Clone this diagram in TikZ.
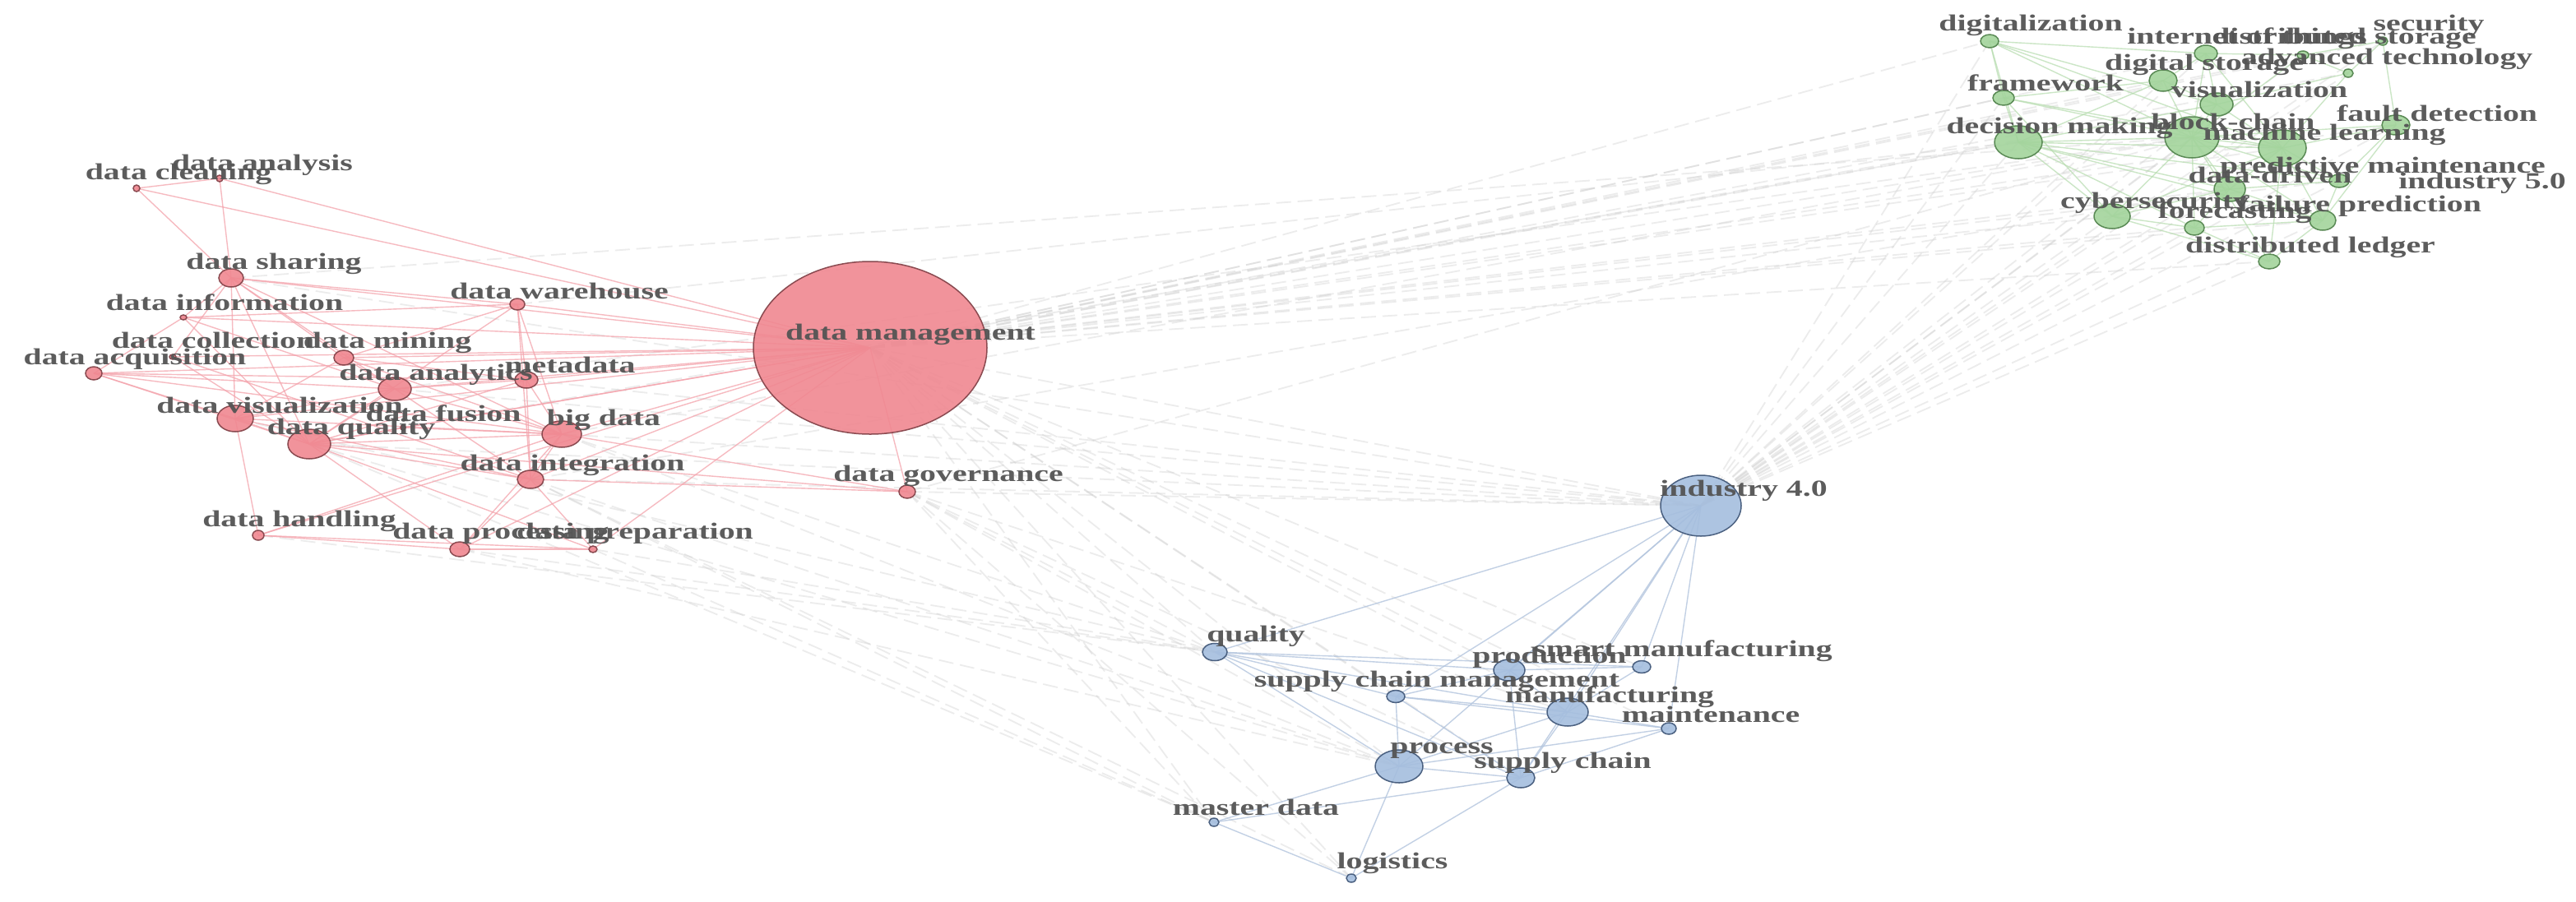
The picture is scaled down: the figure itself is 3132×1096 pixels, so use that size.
\documentclass[tikz,border=0pt]{standalone}
\usepackage{fontspec}
\newfontfamily\lblfont{Liberation Serif}[FakeStretch=1.42]
\usetikzlibrary{shapes.geometric}
\pgfdeclarelayer{bglayer}
\pgfdeclarelayer{edgelayer}
\pgfsetlayers{bglayer,edgelayer,main}
\definecolor{redfill}{HTML}{F08891}
\definecolor{redline}{HTML}{8A4A50}
\definecolor{rededge}{HTML}{F4A3AC}
\definecolor{greenfill}{HTML}{A3D49C}
\definecolor{greenline}{HTML}{5A8A55}
\definecolor{greenedge}{HTML}{B6DCAE}
\definecolor{bluefill}{HTML}{A5BEDE}
\definecolor{blueline}{HTML}{4A6080}
\definecolor{blueedge}{HTML}{B3C5DE}
\definecolor{crossedge}{HTML}{D2D2D2}
\definecolor{lblgray}{HTML}{545454}
\tikzset{
  kw/.style={ellipse, line width=1.5pt, inner sep=0pt, fill opacity=0.9},
  rn/.style={kw, draw=redline, fill=redfill},
  gn/.style={kw, draw=greenline, fill=greenfill},
  bn/.style={kw, draw=blueline, fill=bluefill},
  lbl/.style={anchor=base, inner sep=0pt, text=lblgray, text opacity=0.95,
    font=\lblfont\bfseries\fontsize{28}{30}\selectfont},
  redrel/.style={draw=rededge, line width=1.4pt, opacity=0.75},
  greenrel/.style={draw=greenedge, line width=1.4pt, opacity=0.7},
  bluerel/.style={draw=blueedge, line width=1.4pt, opacity=0.8},
  crossrel/.style={draw=crossedge, line width=1.8pt, opacity=0.42, dash pattern=on 18pt off 8pt}
}
\newcommand{\kwnode}[6]{\node[#1, minimum width=#5pt, minimum height=#6pt] (#2) at (#3,#4) {};}
\begin{document}
\begin{tikzpicture}[x=1pt,y=-1pt]
\useasboundingbox (0,0) rectangle (3132,1096);
\begin{pgfonlayer}{bglayer}
\fill[white] (0,0) rectangle (3132,1096);
\end{pgfonlayer}
% ---------- red cluster nodes ----------
\kwnode{rn}{dm}{1058}{423}{284}{210}
\kwnode{rn}{dcl}{166}{229}{8}{8}
\kwnode{rn}{dan}{267}{217}{8}{8}
\kwnode{rn}{dsh}{281}{338}{30}{22}
\kwnode{rn}{dinf}{223}{386}{8}{6}
\kwnode{rn}{dwh}{629}{370}{18}{14}
\kwnode{rn}{dcol}{210}{434}{8}{6}
\kwnode{rn}{dmin}{418}{435}{24}{18}
\kwnode{rn}{dacq}{114}{454}{20}{16}
\kwnode{rn}{dana}{480}{473}{40}{28}
\kwnode{rn}{meta}{640}{462}{28}{20}
\kwnode{rn}{dviz}{286}{509}{44}{32}
\kwnode{rn}{dfus}{490}{520}{6}{6}
\kwnode{rn}{dq}{376}{540}{52}{36}
\kwnode{rn}{bd}{683}{528}{48}{32}
\kwnode{rn}{dint}{645}{583}{32}{22}
\kwnode{rn}{dh}{314}{651}{14}{12}
\kwnode{rn}{dproc}{559}{668}{24}{18}
\kwnode{rn}{dprep}{721}{668}{10}{8}
\kwnode{rn}{dgov}{1103}{598}{20}{16}
% ---------- green cluster nodes ----------
\kwnode{gn}{dig}{2419}{50}{22}{16}
\kwnode{gn}{iot}{2682}{65}{28}{20}
\kwnode{gn}{dst}{2800}{67}{14}{10}
\kwnode{gn}{sec}{2897}{50}{12}{10}
\kwnode{gn}{adv}{2855}{89}{12}{10}
\kwnode{gn}{dgs}{2630}{98}{34}{26}
\kwnode{gn}{fw}{2436}{119}{26}{18}
\kwnode{gn}{vis}{2695}{127}{40}{28}
\kwnode{gn}{fd}{2913}{152}{34}{24}
\kwnode{gn}{dec}{2454}{173}{58}{40}
\kwnode{gn}{bc}{2665}{167}{66}{50}
\kwnode{gn}{ml}{2775}{180}{58}{44}
\kwnode{gn}{pm}{2844}{220}{24}{16}
\kwnode{gn}{dd}{2711}{230}{38}{30}
\kwnode{gn}{cyb}{2568}{263}{44}{30}
\kwnode{gn}{fp}{2824}{268}{32}{24}
\kwnode{gn}{fc}{2668}{277}{24}{18}
\kwnode{gn}{dl}{2759}{318}{26}{18}
% ---------- blue cluster nodes ----------
\kwnode{bn}{i4}{2068}{615}{98}{74}
\kwnode{bn}{qual}{1477}{793}{30}{21}
\kwnode{bn}{prod}{1835}{815}{38}{26}
\kwnode{bn}{sm}{1996}{811}{22}{15}
\kwnode{bn}{scm}{1697}{847}{22}{15}
\kwnode{bn}{mfg}{1906}{866}{50}{34}
\kwnode{bn}{mnt}{2029}{886}{18}{14}
\kwnode{bn}{proc}{1701}{932}{58}{40}
\kwnode{bn}{sc}{1849}{946}{34}{24}
\kwnode{bn}{md}{1476}{1000}{12}{10}
\kwnode{bn}{log}{1643}{1068}{12}{10}
% ---------- edges ----------
\begin{pgfonlayer}{edgelayer}
\foreach \a/\b in {dm/dig,dm/iot,dm/dst,dm/sec,dm/adv,dm/dgs,dm/fw,dm/vis,dm/fd,dm/dec,dm/bc,dm/ml,dm/pm,dm/dd,dm/cyb,dm/fp,dm/fc,dm/dl,
  i4/dig,i4/iot,i4/dst,i4/sec,i4/adv,i4/dgs,i4/fw,i4/vis,i4/fd,i4/dec,i4/bc,i4/ml,i4/pm,i4/dd,i4/cyb,i4/fp,i4/fc,i4/dl,
  dm/i4,dm/qual,dm/prod,dm/scm,dm/mfg,dm/proc,dm/sc,dm/md,dm/log,dm/mnt,dm/sm,
  dq/i4,bd/i4,dana/i4,dint/i4,dsh/i4,meta/i4,dgov/i4,dproc/qual,dprep/qual,dint/proc,dq/proc,bd/proc,
  dgov/proc,dgov/qual,dgov/log,dgov/md,dq/md,dint/md,dint/log,dh/qual,dsh/bc,dwh/dec,bd/bc,dana/bc,dq/dec,dint/dd,dgov/bc,
  dproc/proc,dprep/md,bd/qual,dviz/qual,dgov/sc,dgov/mfg}
  \draw[crossrel] (\a.center) -- (\b.center);
\foreach \a/\b in {dm/dcl,dm/dan,dm/dsh,dm/dinf,dm/dwh,dm/dcol,dm/dmin,dm/dacq,dm/dana,dm/meta,dm/dviz,dm/dfus,dm/dq,dm/bd,dm/dint,dm/dh,dm/dproc,dm/dprep,dm/dgov,
  dcl/dan,dcl/dsh,dan/dsh,dsh/dwh,dsh/dinf,dsh/dcol,dsh/dviz,dsh/dmin,dsh/dana,dsh/dq,dsh/bd,dinf/dwh,dinf/dana,dinf/dacq,dinf/dq,
  dacq/dana,dacq/dviz,dacq/meta,dacq/bd,dacq/dq,dmin/dana,dmin/dwh,dmin/bd,dmin/dviz,dmin/meta,dwh/meta,dwh/bd,dwh/dq,dwh/dint,
  dviz/dq,dviz/dana,dviz/dh,dviz/bd,dviz/dint,dq/bd,dq/dint,dq/dproc,dq/dprep,dq/meta,dq/dana,dana/bd,dana/dint,dana/meta,
  meta/bd,meta/dint,bd/dint,bd/dproc,bd/dgov,dint/dproc,dint/dprep,dh/dproc,dh/dprep,dh/bd,dproc/dprep,dgov/dq,dgov/dint,
  dcol/dq,dcol/dint,dfus/bd,dfus/dq}
  \draw[redrel] (\a.center) -- (\b.center);
\foreach \a/\b in {dig/fw,dig/dec,dig/bc,dig/vis,dig/ml,dig/iot,fw/dec,fw/bc,fw/ml,fw/dgs,fw/cyb,dec/bc,dec/ml,dec/cyb,dec/dd,dec/fc,
  dec/vis,dec/dgs,dec/pm,dec/fp,bc/ml,bc/vis,bc/dgs,bc/dd,bc/cyb,bc/fc,bc/dl,bc/iot,bc/dst,bc/fp,bc/pm,bc/fd,ml/vis,ml/fd,ml/pm,
  ml/dd,ml/fp,ml/dl,ml/adv,ml/iot,ml/cyb,vis/dgs,vis/iot,vis/adv,iot/dst,iot/dgs,dst/sec,dst/adv,adv/sec,fd/pm,fd/fp,fd/sec,
  pm/fp,pm/dd,dd/fc,dd/fp,dd/cyb,cyb/fc,cyb/dl,fc/dl,fp/dl,fp/fc}
  \draw[greenrel] (\a.center) -- (\b.center);
\foreach \a/\b in {i4/qual,i4/prod,i4/sm,i4/scm,i4/mfg,i4/mnt,i4/proc,i4/sc,qual/prod,qual/sm,qual/mfg,qual/proc,qual/sc,qual/scm,
  scm/mfg,scm/proc,scm/sc,scm/prod,prod/mfg,prod/sc,prod/sm,mfg/proc,mfg/sc,mfg/mnt,mfg/sm,proc/sc,proc/mnt,proc/md,proc/log,
  sc/log,sc/md,md/log,sc/mnt,scm/mnt}
  \draw[bluerel] (\a.center) -- (\b.center);
\end{pgfonlayer}
% ---------- labels ----------
\node[lbl] (dm-l) at (1107,413) {data management};
\node[lbl] (dcl-l) at (217,218) {data cleaning};
\node[lbl] (dan-l) at (319,207) {data analysis};
\node[lbl] (dsh-l) at (333,327) {data sharing};
\node[lbl] (dinf-l) at (273,377) {data information};
\node[lbl] (dwh-l) at (680,363) {data warehouse};
\node[lbl] (dcol-l) at (259,423) {data collection};
\node[lbl] (dmin-l) at (471,423) {data mining};
\node[lbl] (dacq-l) at (164,443) {data acquisition};
\node[lbl] (dana-l) at (530,462) {data analytics};
\node[lbl] (meta-l) at (693,453) {metadata};
\node[lbl] (dviz-l) at (340,502) {data visualization};
\node[lbl] (dfus-l) at (539,512) {data fusion};
\node[lbl] (dq-l) at (427,528) {data quality};
\node[lbl] (bd-l) at (734,517) {big data};
\node[lbl] (dint-l) at (696,572) {data integration};
\node[lbl] (dh-l) at (364,640) {data handling};
\node[lbl] (dproc-l) at (609,655) {data processing};
\node[lbl] (dprep-l) at (772,655) {data preparation};
\node[lbl] (dgov-l) at (1153,585) {data governance};
\node[lbl] (dig-l) at (2469,37) {digitalization};
\node[lbl] (iot-l) at (2732,53) {internet of things};
\node[lbl] (dst-l) at (2850,53) {distributed storage};
\node[lbl] (sec-l) at (2953,37) {security};
\node[lbl] (adv-l) at (2902,78) {advanced technology};
\node[lbl] (dgs-l) at (2680,85) {digital storage};
\node[lbl] (fw-l) at (2487,110) {framework};
\node[lbl] (vis-l) at (2747,118) {visualization};
\node[lbl] (fd-l) at (2963,147) {fault detection};
\node[lbl] (dec-l) at (2504,162) {decision making};
\node[lbl] (bc-l) at (2715,157) {block-chain};
\node[lbl] (ml-l) at (2826,170) {machine learning};
\node[lbl] (pm-l) at (2897,210) {predictive maintenance};
\node[lbl] (i5-l) at (3018,229) {industry 5.0};
\node[lbl] (dd-l) at (2760,222) {data-driven};
\node[lbl] (cyb-l) at (2620,253) {cybersecurity};
\node[lbl] (fp-l) at (2869,257) {failure prediction};
\node[lbl] (fc-l) at (2717,265) {forecasting};
\node[lbl] (dl-l) at (2809,307) {distributed ledger};
\node[lbl] (i4-l) at (2120,603) {industry 4.0};
\node[lbl] (qual-l) at (1527,780) {quality};
\node[lbl] (prod-l) at (1884,806) {production};
\node[lbl] (sm-l) at (2046,798) {smart manufacturing};
\node[lbl] (scm-l) at (1747,835) {supply chain management};
\node[lbl] (mfg-l) at (1957,854) {manufacturing};
\node[lbl] (mnt-l) at (2080,878) {maintenance};
\node[lbl] (proc-l) at (1753,916) {process};
\node[lbl] (sc-l) at (1900,934) {supply chain};
\node[lbl] (md-l) at (1527,991) {master data};
\node[lbl] (log-l) at (1693,1056) {logistics};
\end{tikzpicture}
\end{document}
